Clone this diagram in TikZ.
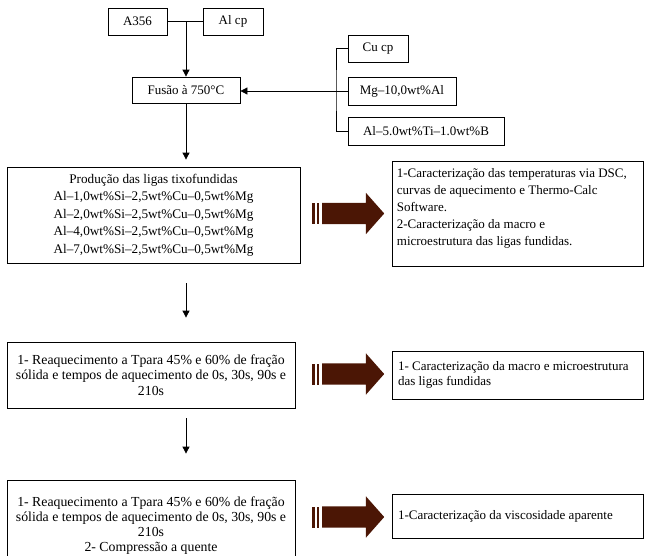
\documentclass[tikz,border=0pt]{standalone}
\usepackage{fontspec}
\setmainfont{Liberation Serif}
\usetikzlibrary{shapes.arrows,arrows.meta}
\definecolor{arrowbrown}{RGB}{75,22,5}

\begin{document}
\begin{tikzpicture}[
  x=1pt, y=-1pt,
  box/.style={rectangle, draw, line width=0.8pt, inner sep=2pt, align=center, font=\fontsize{13}{15.5}\selectfont},
  rbox/.style={box, align=flush left, inner xsep=6pt, text width=239, minimum height=#1},
  arrow/.style={-{Triangle[length=7pt,width=7pt]}, line width=0.8pt},
  bigarrow/.style={single arrow, fill=arrowbrown, anchor=tail, minimum height=62, single arrow head extend=10, single arrow tip angle=97, inner xsep=0pt, inner ysep=10.5pt}
]
\useasboundingbox (0,0) rectangle (645,555);
\clip (0,0) rectangle (645,555);

% raw materials
\node[box, minimum width=59, minimum height=27] (a356) at (137.5,21.5) {A356};
\node[box, minimum width=60, minimum height=27] (alcp) at (233,21.5) {Al cp};
\node[box, minimum width=108, minimum height=26] (fusao) at (186,90) {Fusão à 750°C};
\node[box, minimum width=60, minimum height=27] (cucp) at (378,48.5) {Cu cp};
\node[box, minimum width=108, minimum height=28] (mgal) at (402,91) {Mg–10,0wt\%Al};
\node[box, minimum width=156, minimum height=28] (altib) at (426,131) {Al–5.0wt\%Ti–1.0wt\%B};
\coordinate (brk) at (336,91);

% process steps
\node[box, minimum width=293, minimum height=96, font=\fontsize{13.2}{17.5}\selectfont] (prod) at (153.5,215)
  {Produção das ligas tixofundidas\\ Al–1,0wt\%Si–2,5wt\%Cu–0,5wt\%Mg\\ Al–2,0wt\%Si–2,5wt\%Cu–0,5wt\%Mg\\ Al–4,0wt\%Si–2,5wt\%Cu–0,5wt\%Mg\\ Al–7,0wt\%Si–2,5wt\%Cu–0,5wt\%Mg};
\node[box, minimum width=288, minimum height=66, font=\fontsize{13.8}{15.5}\selectfont] (reaq) at (151,375)
  {1- Reaquecimento a Tpara 45\% e 60\% de fração\\ sólida e tempos de aquecimento de 0s, 30s, 90s e\\ 210s};
\node[box, minimum width=288, minimum height=92, font=\fontsize{13.8}{15}\selectfont] (comp) at (151,526)
  {1- Reaquecimento a Tpara 45\% e 60\% de fração\\ sólida e tempos de aquecimento de 0s, 30s, 90s e\\ 210s\\ 2- Compressão a quente};

% characterisation
\node[box, inner sep=4.5pt, anchor=north west] (carac1) at (392,161)
  {\parbox[c][96pt][t]{242pt}{\raggedright\fontsize{13}{17}\selectfont\vspace*{3pt}1-Caracterização das temperaturas via DSC,\\ curvas de aquecimento e Thermo-Calc\\ Software.\\ 2-Caracterização da macro e\\ microestrutura das ligas fundidas.}};
\node[rbox=48] (carac2) at (517.5,375) {1- Caracterização da macro e microestrutura\\ das ligas fundidas};
\node[rbox=44] (carac3) at (517.5,516) {1-Caracterização da viscosidade aparente};

% block arrows
\node[bigarrow] (ar1) at (322,213.5) {};
\node[bigarrow] (ar2) at (322,374) {};
\node[bigarrow] (ar3) at (322,517) {};
\foreach \ar in {ar1,ar2,ar3}{
  \fill[arrowbrown] ([shift={(-10,-10.5)}]\ar.tail) rectangle ([shift={(-7.5,10.5)}]\ar.tail);
  \fill[arrowbrown] ([shift={(-5.5,-10.5)}]\ar.tail) rectangle ([shift={(-3,10.5)}]\ar.tail);
}

% connectors
\draw[line width=0.8pt] (a356.east) -- (alcp.west);
\draw[arrow] (fusao.north |- a356.east) -- (fusao.north);
\draw[line width=0.8pt] (cucp.west) -| (brk) |- (altib.west);
\draw[arrow] (mgal.west) -- (mgal.west -| fusao.east);
\draw[arrow, shorten >=7] (fusao.south) -- (prod.north -| fusao);
\draw[arrow, shorten <=20, shorten >=24] (prod.south -| fusao) -- (reaq.north -| fusao);
\draw[arrow, shorten <=10, shorten >=26] (reaq.south -| fusao) -- (comp.north -| fusao);
\end{tikzpicture}
\end{document}
